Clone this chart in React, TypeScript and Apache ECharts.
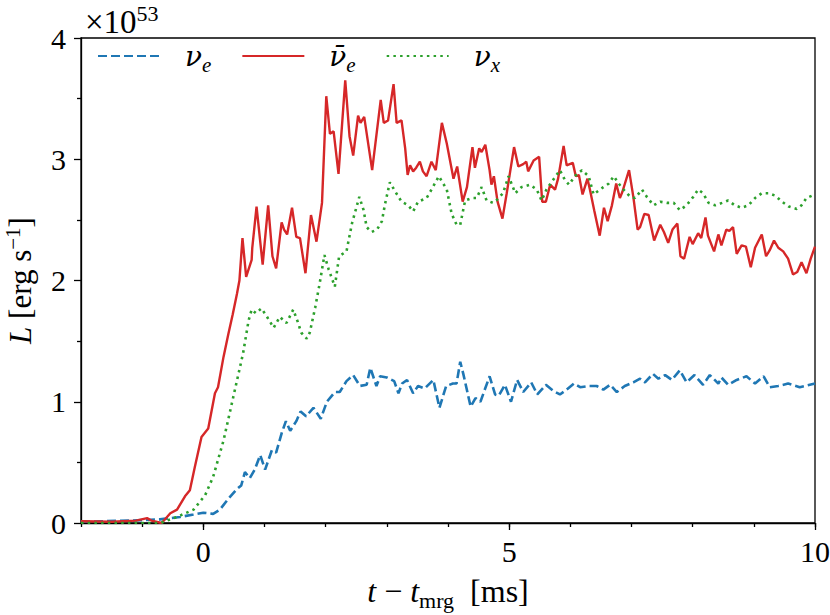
import React, { useEffect, useRef } from "react";
import * as echarts from "echarts";

// [t - t_mrg (ms), L (1e53 erg/s)]
const nuE: [number, number][] = [
  [-2.0, 0.01], [-1.2, 0.02], [-0.71, 0.03], [-0.38, 0.05], [-0.16, 0.07], [0.0, 0.085], [0.16, 0.075],
  [0.27, 0.11], [0.41, 0.2], [0.55, 0.28], [0.62, 0.31], [0.68, 0.42], [0.76, 0.37], [0.84, 0.44],
  [0.93, 0.56], [1.01, 0.44], [1.12, 0.6], [1.19, 0.58], [1.28, 0.74], [1.35, 0.84], [1.42, 0.76],
  [1.52, 0.84], [1.59, 0.92], [1.68, 0.88], [1.8, 0.95], [1.92, 0.86], [2.02, 1.0], [2.15, 1.08],
  [2.23, 1.08], [2.34, 1.17], [2.45, 1.22], [2.56, 1.13], [2.67, 1.14], [2.73, 1.28], [2.83, 1.13],
  [2.89, 1.21], [3.0, 1.2], [3.12, 1.17], [3.19, 1.07], [3.25, 1.15], [3.33, 1.18], [3.43, 1.07],
  [3.51, 1.13], [3.62, 1.11], [3.76, 1.18], [3.86, 0.95], [3.97, 1.13], [4.08, 1.15], [4.14, 1.15],
  [4.2, 1.33], [4.25, 1.23], [4.37, 0.96], [4.45, 1.03], [4.53, 1.0], [4.68, 1.21], [4.77, 1.06],
  [4.83, 1.05], [4.93, 1.14], [5.03, 1.0], [5.13, 1.18], [5.23, 1.08], [5.36, 1.16], [5.46, 1.06],
  [5.6, 1.14], [5.72, 1.09], [5.83, 1.06], [5.94, 1.1], [6.06, 1.15], [6.16, 1.12], [6.3, 1.13],
  [6.43, 1.13], [6.54, 1.1], [6.65, 1.14], [6.76, 1.08], [6.89, 1.13], [7.03, 1.16], [7.14, 1.19],
  [7.22, 1.16], [7.35, 1.23], [7.44, 1.19], [7.55, 1.22], [7.66, 1.18], [7.79, 1.26], [7.9, 1.16],
  [8.03, 1.22], [8.17, 1.14], [8.28, 1.22], [8.42, 1.15], [8.47, 1.2], [8.58, 1.14], [8.72, 1.18],
  [8.88, 1.21], [9.02, 1.15], [9.16, 1.21], [9.26, 1.12], [9.4, 1.13], [9.56, 1.15], [9.75, 1.12],
  [10.0, 1.15],
];

const nuEBar: [number, number][] = [
  [-2.0, 0.015], [-1.5, 0.01], [-1.1, 0.02], [-0.92, 0.04], [-0.85, 0.02], [-0.68, 0.0], [-0.54, 0.08],
  [-0.43, 0.11], [-0.3, 0.22], [-0.22, 0.27], [-0.14, 0.46], [-0.03, 0.71], [0.08, 0.78], [0.19, 1.07],
  [0.24, 1.12], [0.33, 1.37], [0.41, 1.56], [0.48, 1.72], [0.55, 1.89], [0.59, 2.0], [0.64, 2.35],
  [0.7, 2.03], [0.79, 2.17], [0.8, 2.27], [0.87, 2.61], [0.97, 2.13], [1.06, 2.62], [1.13, 2.2],
  [1.19, 2.1], [1.28, 2.48], [1.32, 2.42], [1.37, 2.38], [1.45, 2.6], [1.52, 2.36], [1.58, 2.35],
  [1.67, 2.06], [1.76, 2.54], [1.85, 2.32], [1.94, 2.64], [2.01, 3.52], [2.07, 3.21], [2.13, 3.23],
  [2.21, 2.88], [2.32, 3.65], [2.39, 3.19], [2.45, 3.03], [2.53, 3.36], [2.57, 3.3], [2.63, 3.35],
  [2.76, 2.91], [2.9, 3.49], [2.95, 3.3], [3.02, 3.32], [3.11, 3.62], [3.16, 3.3], [3.24, 3.32],
  [3.3, 3.09], [3.34, 2.87], [3.38, 2.95], [3.43, 2.9], [3.48, 2.93], [3.54, 2.98], [3.59, 2.9],
  [3.65, 2.86], [3.73, 2.98], [3.8, 2.91], [3.9, 3.3], [3.98, 3.13], [4.09, 2.84], [4.15, 2.94],
  [4.24, 2.65], [4.31, 2.77], [4.4, 3.1], [4.44, 2.93], [4.51, 3.09], [4.55, 3.06], [4.61, 3.12],
  [4.68, 2.91], [4.71, 2.79], [4.75, 2.86], [4.81, 2.65], [4.89, 2.51], [4.96, 2.72], [5.08, 3.1],
  [5.15, 2.94], [5.23, 2.96], [5.28, 2.98], [5.31, 2.9], [5.4, 2.99], [5.49, 3.02], [5.54, 2.65],
  [5.6, 2.65], [5.67, 2.79], [5.75, 2.75], [5.8, 2.84], [5.89, 3.11], [5.94, 2.95], [6.04, 2.97],
  [6.09, 2.86], [6.14, 2.87], [6.2, 2.71], [6.28, 2.84], [6.32, 2.75], [6.39, 2.58], [6.48, 2.37],
  [6.55, 2.6], [6.61, 2.49], [6.68, 2.62], [6.75, 2.8], [6.81, 2.68], [6.85, 2.73], [6.96, 2.91],
  [7.03, 2.69], [7.1, 2.42], [7.14, 2.44], [7.21, 2.55], [7.28, 2.54], [7.37, 2.33], [7.47, 2.46],
  [7.53, 2.4], [7.6, 2.31], [7.67, 2.42], [7.75, 2.47], [7.8, 2.2], [7.86, 2.18], [7.95, 2.36],
  [8.0, 2.3], [8.09, 2.39], [8.14, 2.35], [8.21, 2.52], [8.25, 2.37], [8.35, 2.24], [8.42, 2.38],
  [8.47, 2.29], [8.55, 2.42], [8.6, 2.41], [8.66, 2.44], [8.72, 2.22], [8.8, 2.29], [8.87, 2.28],
  [8.95, 2.11], [9.02, 2.27], [9.13, 2.38], [9.2, 2.2], [9.26, 2.25], [9.33, 2.33], [9.4, 2.27],
  [9.48, 2.24], [9.56, 2.18], [9.64, 2.05], [9.71, 2.07], [9.78, 2.15], [9.86, 2.06], [9.93, 2.18],
  [10.0, 2.28],
];

const nuX: [number, number][] = [
  [-2.0, 0.0], [-0.7, 0.0], [-0.43, 0.05], [-0.16, 0.11], [0.03, 0.23], [0.16, 0.38], [0.33, 0.68],
  [0.49, 1.04], [0.65, 1.4], [0.74, 1.67], [0.79, 1.76], [0.86, 1.73], [0.95, 1.77], [1.03, 1.71],
  [1.15, 1.61], [1.25, 1.7], [1.36, 1.65], [1.47, 1.76], [1.55, 1.65], [1.6, 1.57], [1.69, 1.52],
  [1.74, 1.57], [1.83, 1.78], [1.9, 1.97], [1.98, 2.21], [2.05, 2.09], [2.15, 1.95], [2.22, 2.2],
  [2.34, 2.24], [2.43, 2.47], [2.55, 2.69], [2.62, 2.58], [2.67, 2.44], [2.75, 2.4], [2.84, 2.42],
  [2.92, 2.49], [2.97, 2.63], [3.05, 2.81], [3.13, 2.74], [3.24, 2.65], [3.35, 2.62], [3.43, 2.57],
  [3.51, 2.65], [3.65, 2.68], [3.73, 2.75], [3.85, 2.86], [3.98, 2.75], [4.06, 2.55], [4.14, 2.46],
  [4.2, 2.46], [4.28, 2.66], [4.39, 2.68], [4.47, 2.68], [4.55, 2.77], [4.63, 2.66], [4.74, 2.64],
  [4.79, 2.66], [4.9, 2.72], [4.99, 2.86], [5.1, 2.72], [5.2, 2.77], [5.34, 2.79], [5.45, 2.75],
  [5.53, 2.66], [5.61, 2.75], [5.72, 2.83], [5.83, 2.91], [5.91, 2.83], [5.98, 2.79], [6.07, 2.86],
  [6.19, 2.91], [6.3, 2.86], [6.38, 2.71], [6.46, 2.74], [6.54, 2.77], [6.63, 2.8], [6.71, 2.86],
  [6.79, 2.8], [6.87, 2.75], [6.98, 2.69], [7.06, 2.68], [7.17, 2.75], [7.25, 2.69], [7.36, 2.62],
  [7.47, 2.65], [7.58, 2.64], [7.69, 2.64], [7.79, 2.58], [7.9, 2.62], [8.01, 2.69], [8.09, 2.75],
  [8.17, 2.72], [8.26, 2.64], [8.37, 2.62], [8.48, 2.64], [8.58, 2.66], [8.69, 2.62], [8.8, 2.6],
  [8.91, 2.62], [9.02, 2.68], [9.13, 2.72], [9.24, 2.72], [9.35, 2.7], [9.46, 2.65], [9.57, 2.61],
  [9.7, 2.59], [9.78, 2.62], [9.86, 2.68], [10.0, 2.71],
];

const xMajorTicks = [0, 5, 10];
const yTicks = [0, 1, 2, 3, 4];
const seriesNames = ["νe", "ν̄e", "νx"];
const legendLabels: Record<string, string> = {
  "νe": "{a|ν}{s|e}",
  "ν̄e": "{a|ν̄}{s|e}",
  "νx": "{a|ν}{s|x}",
};

const FONT = "'Liberation Serif', 'DejaVu Serif', serif";
const GREEK = "'DejaVu Serif', serif";
const BLUE = "#1f77b4";
const RED = "#d62728";
const GREEN = "#2ca02c";

export default function App() {
  const ref = useRef<HTMLDivElement>(null);

  useEffect(() => {
    document.body.style.margin = "0";
    if (!ref.current) return;
    const chart = echarts.init(ref.current, undefined, { renderer: "svg" });

    const tickLine = { color: "#000", width: 1.3 };
    const option: any = {
      animation: false,
      backgroundColor: "#fff",
      grid: {
        left: 81,
        right: 15,
        top: 38,
        bottom: 92,
        show: true,
        borderColor: "#000",
        borderWidth: 1.3,
        outerBoundsMode: "none",
      },
      legend: {
        data: seriesNames,
        left: 97,
        top: 42,
        padding: 0,
        itemWidth: 62,
        itemHeight: 14,
        itemGap: 30,
        itemStyle: { opacity: 0 },
        formatter: (name: string) => legendLabels[name],
        textStyle: {
          color: "#000",
          fontFamily: FONT,
          fontSize: 28,
          rich: {
            a: { fontFamily: GREEK, fontSize: 28, fontStyle: "italic", padding: [0, 0, 0, 20] },
            s: { fontFamily: FONT, fontSize: 21, fontStyle: "italic", padding: [18, 0, 0, 0] },
          },
        },
      },
      xAxis: [
        {
          type: "value",
          min: -2,
          max: 10,
          interval: 1,
          position: "bottom",
          axisLine: { show: true, onZero: false, lineStyle: { color: "#000", width: 1.3 } },
          axisTick: { show: true, inside: false, length: 4, lineStyle: tickLine },
          axisLabel: { show: false },
          splitLine: { show: false },
        },
        {
          type: "value",
          min: -2,
          max: 10,
          position: "bottom",
          axisLine: { show: false, onZero: false },
          axisTick: { show: true, inside: false, length: 7, customValues: xMajorTicks, lineStyle: tickLine },
          axisLabel: {
            show: true,
            customValues: xMajorTicks,
            color: "#000",
            fontFamily: FONT,
            fontSize: 30,
            margin: 13,
          },
          splitLine: { show: false },
          name: "{i|t} − {i|t}{s|mrg}  [ms]",
          nameLocation: "middle",
          nameGap: 48,
          nameTextStyle: {
            color: "#000",
            fontFamily: FONT,
            fontSize: 32,
            rich: {
              i: { fontFamily: FONT, fontSize: 32, fontStyle: "italic" },
              s: { fontFamily: FONT, fontSize: 22, padding: [18, 0, 0, 0] },
            },
          },
        },
      ],
      yAxis: [
        {
          type: "value",
          min: 0,
          max: 4,
          interval: 1,
          position: "left",
          axisLine: { show: true, onZero: false, lineStyle: { color: "#000", width: 1.3 } },
          axisTick: { show: true, inside: false, length: 7, lineStyle: tickLine },
          minorTick: { show: true, splitNumber: 2, length: 4, lineStyle: tickLine },
          axisLabel: {
            color: "#000",
            fontFamily: FONT,
            fontSize: 30,
            margin: 15,
            formatter: (v: number) => (yTicks.includes(v) ? String(v) : ""),
          },
          splitLine: { show: false },
          minorSplitLine: { show: false },
          name: "{i|L} [erg s{p|−1}]",
          nameLocation: "middle",
          nameGap: 43,
          nameTextStyle: {
            color: "#000",
            fontFamily: FONT,
            fontSize: 31,
            rich: {
              i: { fontFamily: FONT, fontSize: 31, fontStyle: "italic" },
              p: { fontFamily: FONT, fontSize: 21, padding: [0, 0, 15, 0] },
            },
          },
        },
        {
          type: "value",
          min: 0,
          max: 4,
          position: "left",
          axisLine: { show: false, onZero: false },
          axisTick: { show: false },
          axisLabel: { show: false },
          splitLine: { show: false },
          name: "{m|×10}{p|53}",
          nameLocation: "end",
          nameGap: -4,
          nameTextStyle: {
            color: "#000",
            fontFamily: FONT,
            fontSize: 33,
            align: "left",
            padding: [0, 0, 0, 4],
            rich: {
              m: { fontFamily: FONT, fontSize: 33, lineHeight: 40 },
              p: { fontFamily: FONT, fontSize: 22, lineHeight: 22, verticalAlign: "top" },
            },
          },
        },
      ],
      series: [
        {
          name: seriesNames[0],
          type: "line",
          xAxisIndex: 0,
          yAxisIndex: 0,
          data: nuE,
          symbol: "none",
          lineStyle: { color: BLUE, width: 2.6, type: [9, 4] },
          itemStyle: { color: BLUE },
          z: 2,
        },
        {
          name: seriesNames[1],
          type: "line",
          xAxisIndex: 0,
          yAxisIndex: 0,
          data: nuEBar,
          symbol: "none",
          lineStyle: { color: RED, width: 2.4, type: "solid" },
          itemStyle: { color: RED },
          z: 3,
        },
        {
          name: seriesNames[2],
          type: "line",
          xAxisIndex: 0,
          yAxisIndex: 0,
          data: nuX,
          symbol: "none",
          lineStyle: { color: GREEN, width: 2.6, type: [2.5, 4.2] },
          itemStyle: { color: GREEN },
          z: 4,
        },
      ],
    };

    chart.setOption(option);
    return () => chart.dispose();
  }, []);

  return <div ref={ref} style={{ width: 830, height: 615 }} />;
}
